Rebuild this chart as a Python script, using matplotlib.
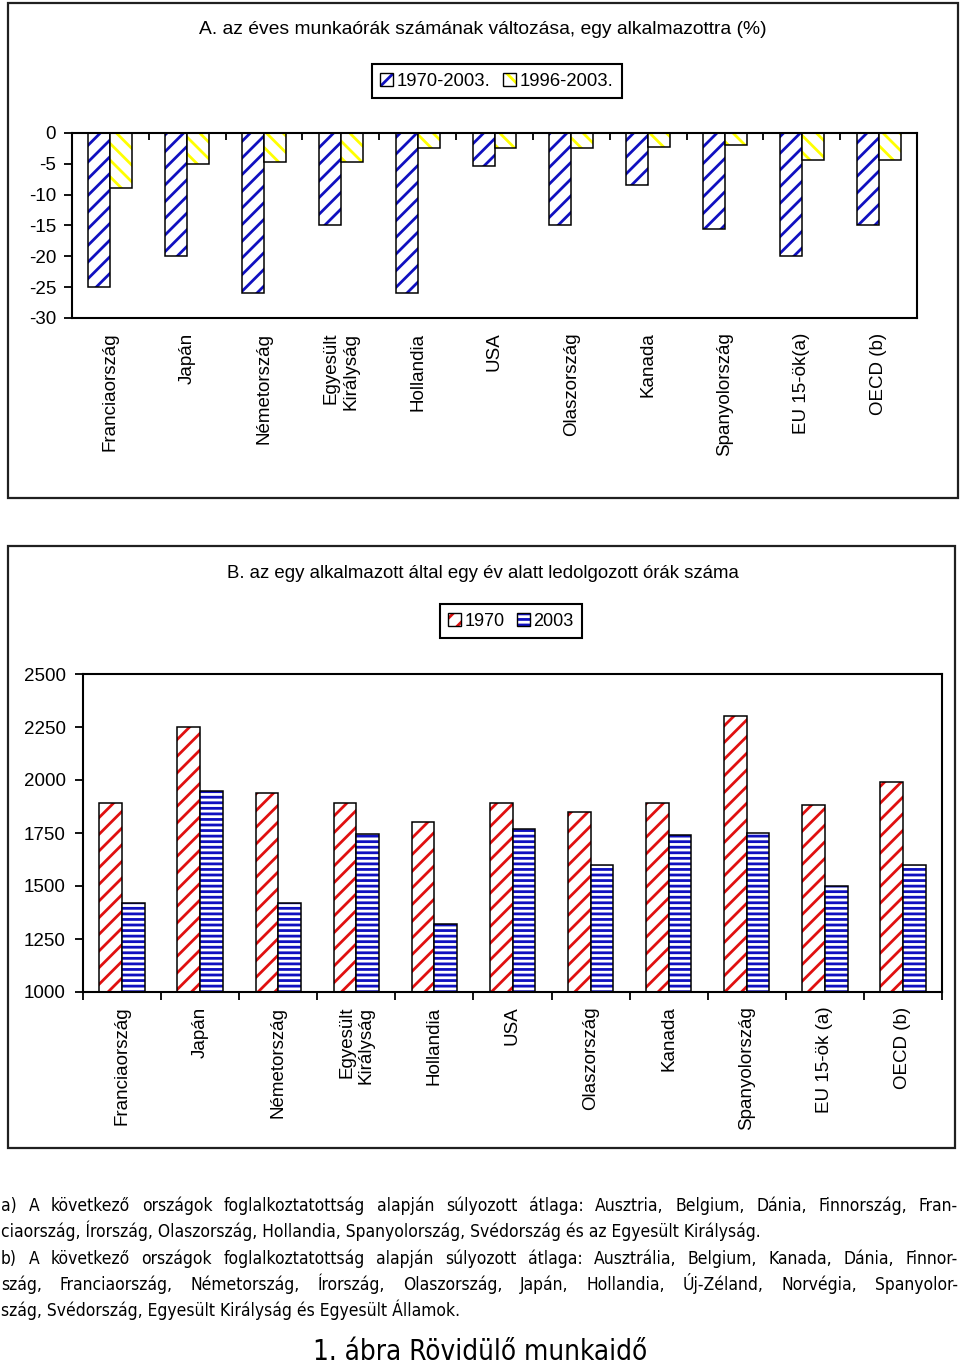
import matplotlib
matplotlib.use("Agg")
import matplotlib.pyplot as plt
from matplotlib import font_manager
from matplotlib.font_manager import FontProperties
from matplotlib.patches import Patch, Rectangle
from matplotlib.legend_handler import HandlerTuple
import numpy as np

# data
countries_a = ["Franciaország", "Japán", "Németország", "Egyesült\nKirályság",
               "Hollandia", "USA", "Olaszország", "Kanada", "Spanyolország",
               "EU 15-ök(a)", "OECD (b)"]
countries_b = ["Franciaország", "Japán", "Németország", "Egyesült\nKirályság",
               "Hollandia", "USA", "Olaszország", "Kanada", "Spanyolország",
               "EU 15-ök (a)", "OECD (b)"]
change_1970_2003 = [-25, -20, -26, -15, -26, -5.4, -15, -8.5, -15.5, -20, -15]
change_1996_2003 = [-9, -5, -4.7, -4.7, -2.5, -2.4, -2.4, -2.2, -1.9, -4.4, -4.4]
hours_1970 = [1890, 2250, 1940, 1890, 1800, 1890, 1850, 1890, 2300, 1880, 1990]
hours_2003 = [1420, 1950, 1420, 1745, 1320, 1770, 1600, 1740, 1750, 1500, 1600]
labels_a = ["1970-2003.", "1996-2003."]
labels_b = ["1970", "2003"]

title_a = "A. az éves munkaórák számának változása, egy alkalmazottra (%)"
title_b = "B. az egy alkalmazott által egy év alatt ledolgozott órák száma"
notes = [
    ("a) A következő országok foglalkoztatottság alapján súlyozott átlaga: Ausztria, Belgium, Dánia, Finnország, Fran-", True),
    ("ciaország, Írország, Olaszország, Hollandia, Spanyolország, Svédország és az Egyesült Királyság.", False),
    ("b) A következő országok foglalkoztatottság alapján súlyozott átlaga: Ausztrália, Belgium, Kanada, Dánia, Finnor-", True),
    ("szág, Franciaország, Németország, Írország, Olaszország, Japán, Hollandia, Új-Zéland, Norvégia, Spanyolor-", True),
    ("szág, Svédország, Egyesült Királyság és Egyesült Államok.", False),
]
caption = "1. ábra Rövidülő munkaidő"

BLUE = "#1010C0"
YELLOW = "#FFFF00"
RED = "#E01010"

plt.rcParams['font.family'] = ['Liberation Sans', 'DejaVu Sans']
plt.rcParams['hatch.linewidth'] = 2.0
plt.rcParams['axes.unicode_minus'] = False

# the notes are set in a narrow face in the source; use one if the system has it
note_file = None
for f in font_manager.fontManager.ttflist:
    base = f.fname.replace('\\', '/').split('/')[-1]
    if base.startswith('LiberationSansNarrow-Regular'):
        note_file = f.fname
        break
if note_file is None:
    for f in font_manager.fontManager.ttflist:
        if f.fname.endswith('DejaVuSansCondensed.ttf'):
            note_file = f.fname
            break


def note_fp(size):
    if note_file:
        return FontProperties(fname=note_file, size=size)
    return FontProperties(family='Liberation Sans', size=size)


W, H = 960, 1367
fig = plt.figure(figsize=(W / 100, H / 100), dpi=100)


def px_box(x0, y0, x1, y1):
    """pixel box (top-left origin) -> figure fraction rect"""
    return [x0 / W, 1 - y1 / H, (x1 - x0) / W, (y1 - y0) / H]


def fy(y):
    return 1 - y / H


def hatched_bars(ax, x, vals, width, color, hatch):
    ax.bar(x, vals, width, color='white', edgecolor=color, hatch=hatch, linewidth=0)
    ax.bar(x, vals, width, fill=False, edgecolor='black', linewidth=1.1)


def legend_handle(color, hatch):
    return (Patch(facecolor='white', edgecolor=color, hatch=hatch, linewidth=0),
            Patch(fill=False, edgecolor='black', linewidth=1.0))


def add_legend(handles, labels, cx, cy, size=13):
    leg = fig.legend(handles, labels, loc='center', bbox_to_anchor=(cx / W, fy(cy)),
                     ncol=2, fontsize=size, fancybox=False, framealpha=1,
                     edgecolor='black', handlelength=0.7, handleheight=0.7,
                     handletextpad=0.2, columnspacing=0.7, borderpad=0.45,
                     handler_map={tuple: HandlerTuple(ndivide=1, pad=0)})
    leg.get_frame().set_linewidth(1.5)
    return leg


# outer frames
for box in [(8, 3, 958, 498), (8, 546, 955, 1148)]:
    fig.add_artist(Rectangle((box[0] / W, fy(box[3])), (box[2] - box[0]) / W,
                             (box[3] - box[1]) / H, transform=fig.transFigure,
                             fill=False, edgecolor='#202020', linewidth=1.6))

x = np.arange(len(countries_a))
bw = 0.286

# ---- chart A
ax_a = fig.add_axes(px_box(72, 133, 917, 318))
hatched_bars(ax_a, x - bw / 2, change_1970_2003, bw, BLUE, '//')
hatched_bars(ax_a, x + bw / 2, change_1996_2003, bw, YELLOW, '\\\\')
ax_a.set_xlim(-0.5, len(x) - 0.5)
ax_a.set_ylim(-30, 0)
ax_a.set_yticks(np.arange(-30, 1, 5))
ax_a.set_xticks(x)
ax_a.set_xticklabels(countries_a, rotation=90, ha='center', va='top', ma='right')
ax_a.set_xticks(np.arange(0.5, len(x) - 0.5), minor=True)
ax_a.tick_params(axis='x', which='major', length=0, pad=10.5, labelsize=13.5)
ax_a.tick_params(axis='x', which='minor', top=True, bottom=False, direction='in',
                 length=5, width=1.3)
ax_a.tick_params(axis='y', direction='out', length=6, width=1.3, pad=5.5, labelsize=13.5)
for s in ax_a.spines.values():
    s.set_linewidth(1.5)

fig.text(483 / W, fy(29), title_a, ha='center', va='center', fontsize=13.9)
add_legend([legend_handle(BLUE, '//'), legend_handle(YELLOW, '\\\\')], labels_a, 497, 81, 13.3)

# ---- chart B
ax_b = fig.add_axes(px_box(83, 674, 942, 992))
bw_b = 0.29
hatched_bars(ax_b, x - bw_b / 2, hours_1970, bw_b, RED, '//')
hatched_bars(ax_b, x + bw_b / 2, hours_2003, bw_b, BLUE, '---')
ax_b.set_xlim(-0.5, len(x) - 0.5)
ax_b.set_ylim(1000, 2500)
ax_b.set_yticks(np.arange(1000, 2501, 250))
ax_b.set_xticks(x)
ax_b.set_xticklabels(countries_b, rotation=90, ha='center', va='top', ma='right')
ax_b.set_xticks(np.arange(-0.5, len(x)), minor=True)
ax_b.tick_params(axis='x', which='major', length=0, pad=10.5, labelsize=13.5)
ax_b.tick_params(axis='x', which='minor', direction='out', length=6, width=1.3)
ax_b.tick_params(axis='y', direction='out', length=6, width=1.3, pad=6.5, labelsize=13.5)
for s in ax_b.spines.values():
    s.set_linewidth(1.5)

fig.text(483 / W, fy(573), title_b, ha='center', va='center', fontsize=13.4)
add_legend([legend_handle(RED, '//'), legend_handle(BLUE, '---')], labels_b, 511, 621)

# ---- footnotes, justified like the source
fig.canvas.draw()
renderer = fig.canvas.get_renderer()

# size the note font so the unjustified line 2 is as wide as in the source (~834 px)
probe = fig.text(0, 0, notes[1][0], fontproperties=note_fp(10))
note_size = min(12.5, 10 * 833 / probe.get_window_extent(renderer).width)
probe.remove()
probe = fig.text(0, 0, caption, fontproperties=note_fp(10))
cap_size = min(20, 10 * 350 / probe.get_window_extent(renderer).width)
probe.remove()

left, right = 1, 958
baselines = [1211, 1237, 1264, 1290, 1316]
for (line, justify), yb in zip(notes, baselines):
    if not justify:
        fig.text(left / W, fy(yb), line, ha='left', va='baseline',
                 fontproperties=note_fp(note_size))
        continue
    words = line.split(' ')
    texts = [fig.text(0, fy(yb), w, ha='left', va='baseline',
                      fontproperties=note_fp(note_size)) for w in words]
    widths = [t.get_window_extent(renderer).width for t in texts]
    gap = (right - left - sum(widths)) / (len(words) - 1)
    pos = left
    for t, w in zip(texts, widths):
        t.set_x(pos / W)
        pos += w + gap

fig.text(480 / W, fy(1366), caption, ha='center', va='bottom',
         fontproperties=note_fp(cap_size))

fig.savefig("out.png", dpi=100)
